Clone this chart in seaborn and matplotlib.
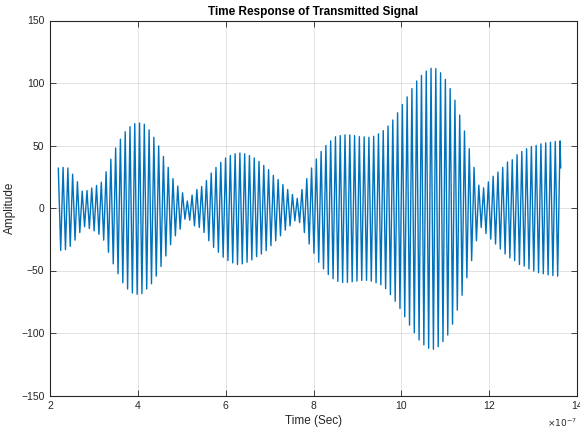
import numpy as np
import pandas as pd
import matplotlib
matplotlib.use("Agg")
import matplotlib.pyplot as plt
import seaborn as sns

# ---- data (successive positive / negative peaks) ----
top_peaks = [
    32, 32.5, 32, 27, 21, 13.5, 14, 16, 18, 20.6, 29, 39, 48, 55, 61, 65, 67.5, 68, 67, 62.5,
    56.6, 49.7, 41.3, 32.5, 23.5, 17.5, 12.2, 5.6, 10.3, 14.8, 17.2, 22, 28, 32.5, 36.5, 40, 42, 43.4, 44,
    43.4, 42, 40, 37.3, 34.1, 30.7, 26.2, 22.8, 18.8, 14.8, 10.8, 7.7, 14.8, 23.5, 32, 39.2, 45.2, 50, 53.7, 57,
    57.9, 58.5, 58.5, 57.9, 57.1, 56.9, 56.6, 57.4, 59.3, 61.9, 65.6, 70.4, 76.2, 82.8, 88.9, 95.5, 101.6, 106.1, 109.5, 111.8,
    111.5, 108.2, 102.9, 95.5, 86.2, 74.3, 61.6, 47.4, 32.5, 18.3, 16.1, 20.9, 25.4, 28.8, 32.5, 36.8, 38.6, 42.6, 45.2, 47.4,
    49.2, 50, 51.3, 52.1, 52.6, 53.2, 53.7,
]
bottom_peaks = [
    -34, -33.3, -30.7, -25.7, -19.6, -15, -16.4, -18.3, -21, -25.7, -35.4, -44.7, -52.6, -59.8, -64.8, -68, -69, -68.5, -64.8, -60.6,
    -54.5, -46.8, -38.4, -29.4, -22.2, -16.9, -9, -9.8, -14.3, -15.6, -19.6, -26.2, -31.5, -35.4, -39.4, -42, -43.9, -45.2, -44.7,
    -43.4, -41.5, -38.9, -36.8, -34.1, -30.2, -26.2, -22.2, -17.7, -14.3, -10.3, -11.6, -19.6, -28.8, -36.2, -43.4, -48.7, -53.2, -56.6, -58.7,
    -59.5, -59.5, -59, -58.5, -57.9, -57.9, -58.5, -59.8, -61.4, -64.6, -69.3, -74.6, -80.4, -87, -93.7, -99.7, -105.6, -109.5, -112.2, -113,
    -110.9, -106.9, -101.6, -92.9, -81.7, -69.8, -55.8, -42.1, -26.2, -15.6, -20.4, -24.9, -28.8, -32.8, -36.8, -39.9, -42.1, -45.2, -46.5,
    -48.7, -50.5, -51.8, -52.6, -53.4, -54, -54.5,
]
last_value = 32
t_first_peak = 2.189e-7
t_last_peak = 13.614e-7
t_last_sample = 13.63e-7

x_ticks = [2e-7, 4e-7, 6e-7, 8e-7, 10e-7, 12e-7, 14e-7]
x_tick_labels = ["2", "4", "6", "8", "10", "12", "14"]
y_ticks = [-150, -100, -50, 0, 50, 100, 150]

# ---- assemble series ----
vals = []
for i, tp in enumerate(top_peaks):
    vals.append(tp)
    if i < len(bottom_peaks):
        vals.append(bottom_peaks[i])
times = list(np.linspace(t_first_peak, t_last_peak, len(vals)))
vals.append(last_value)
times.append(t_last_sample)
df = pd.DataFrame({"t": times, "amp": vals})

# ---- plot ----
sns.set_theme(style="white")
plt.rcParams["font.family"] = ["Liberation Sans", "DejaVu Sans"]

fig = plt.figure(figsize=(5.8, 4.32), dpi=100)
ax = fig.add_axes([50 / 580, 1 - 395.5 / 432, 527 / 580, 375 / 432])

sns.lineplot(data=df, x="t", y="amp", ax=ax, color="#0072BD", linewidth=1.0,
             estimator=None, sort=False)

ax.set_xlim(2e-7, 14e-7)
ax.set_ylim(-150, 150)
ax.set_xticks(x_ticks)
ax.set_xticklabels(x_tick_labels)
ax.set_yticks(y_ticks)
ax.grid(True, color="#262626", alpha=0.15, linewidth=0.6)
ax.set_facecolor("white")
for s in ax.spines.values():
    s.set_color("#262626")
    s.set_linewidth(0.8)
ax.tick_params(direction="in", length=4, width=0.6, colors="#262626",
               labelsize=7.5, top=True, right=True, bottom=True, left=True,
               labelcolor="#262626", pad=4)

ax.set_xlabel("Time (Sec)", fontsize=8.5, color="#262626", labelpad=3)
ax.set_ylabel("Amplitude", fontsize=8.5, color="#262626", labelpad=4)
ax.set_title("Time Response of Transmitted Signal", fontsize=8.5,
             fontweight="bold", color="black", pad=4)
fig.text(577 / 580, 1 - 423 / 432, r"$\times10^{-7}$", fontsize=6.5, color="#262626",
         ha="right", va="center")

fig.savefig("out.png", dpi=100, facecolor="white")
